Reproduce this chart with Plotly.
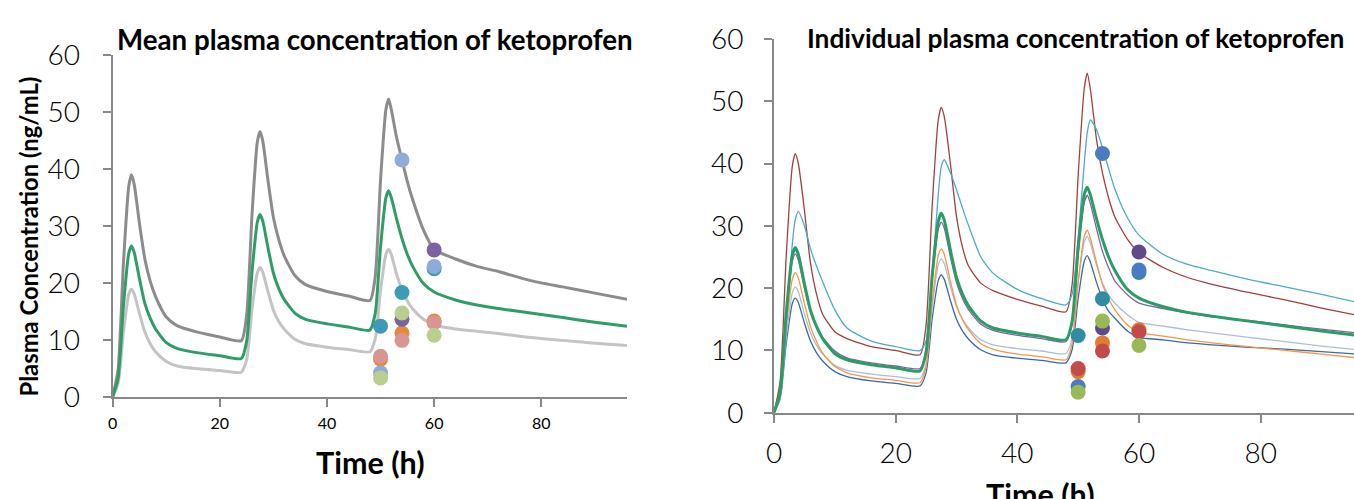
import plotly.graph_objects as go

# ---------------- data ----------------
TIME = [0, 1, 2, 3, 3.5, 4, 5, 6, 7, 8, 10, 12, 16, 20, 24,
        25, 26, 27, 27.5, 28, 29, 30, 31, 32, 34, 36, 40, 44, 48,
        49, 50, 51, 51.5, 52, 53, 54, 55, 56, 58, 60, 64, 68, 72, 78, 84, 90, 96]

MEAN_UPPER = [0, 4.7, 23.4, 37.0, 39.0, 37.4, 30.4, 24.2, 20.3, 17.6, 14.0, 12.5, 11.3, 10.5, 9.85,
              14.3, 31.9, 44.8, 46.6, 45.0, 37.9, 31.5, 27.6, 24.8, 21.3, 19.7, 18.5, 17.7, 16.9,
              21.1, 38.1, 50.5, 52.3, 50.5, 45.5, 41.6, 37.8, 34.6, 29.3, 25.9, 24.2, 22.9, 22.0, 20.4, 19.3, 18.2, 17.1]
MEAN = [0, 3.2, 15.9, 25.2, 26.5, 25.4, 20.7, 16.4, 13.8, 11.9, 9.5, 8.5, 7.7, 7.2, 6.7,
        9.7, 21.9, 30.7, 32.0, 30.9, 26.1, 21.7, 19.0, 17.1, 14.7, 13.6, 12.8, 12.25, 11.7,
        14.6, 26.4, 35.0, 36.2, 35.0, 31.2, 27.8, 25.0, 22.9, 19.9, 18.4, 17.0, 16.1, 15.5, 14.7, 13.9, 13.1, 12.4]
MEAN_LOWER = [0, 2.3, 11.3, 18.0, 18.9, 18.1, 14.6, 11.4, 9.3, 7.9, 6.2, 5.4, 4.9, 4.6, 4.3,
              6.5, 15.3, 21.8, 22.7, 21.9, 18.4, 15.2, 13.2, 11.9, 10.1, 9.3, 8.7, 8.3, 7.9,
              10.1, 18.7, 25.0, 25.9, 25.0, 21.5, 18.8, 16.8, 15.4, 13.6, 12.6, 11.9, 11.5, 11.1, 10.4, 9.9, 9.4, 9.0]

SUBJ_RED = [0, 5.0, 25.0, 39.5, 41.6, 40.0, 32.5, 24.0, 19.0, 15.8, 13.0, 11.9, 10.6, 10.0, 9.3,
            14.1, 33.1, 47.0, 49.0, 47.5, 40.0, 31.5, 26.5, 23.5, 20.8, 19.6, 18.2, 17.1, 16.2,
            20.5, 38.0, 52.0, 54.5, 52.0, 44.0, 38.5, 34.5, 31.5, 28.0, 25.7, 23.3, 21.7, 20.6, 19.3, 18.1, 16.8, 15.6]
SUBJ_CYAN = [0, 2.5, 14.0, 27.0, 31.0, 32.3, 30.0, 26.3, 23.5, 21.0, 16.5, 13.6, 11.5, 10.6, 9.95,
             11.5, 22.0, 35.0, 39.5, 40.6, 38.5, 35.8, 32.8, 30.0, 25.0, 22.4, 19.8, 18.3, 17.3,
             19.0, 28.0, 40.0, 45.0, 47.0, 45.5, 42.5, 39.2, 36.0, 31.5, 28.5, 25.4, 23.8, 22.8, 21.4, 20.2, 19.0, 17.7]
SUBJ_PURPLE = [0, 3.1, 15.3, 24.2, 25.5, 24.5, 20.0, 16.2, 13.8, 12.1, 9.9, 8.8, 8.0, 7.5, 7.1,
               9.9, 21.2, 29.4, 30.6, 29.6, 25.0, 20.9, 18.3, 16.5, 14.2, 13.2, 12.4, 11.9, 11.4,
               14.2, 25.5, 33.7, 34.9, 33.6, 29.6, 25.9, 23.3, 21.2, 19.0, 17.6, 16.7, 16.0, 15.4, 14.8, 14.1, 13.4, 12.8]
SUBJ_ORANGE = [0, 2.7, 13.5, 21.4, 22.5, 21.6, 17.5, 13.8, 11.4, 9.6, 7.4, 6.4, 5.6, 5.2, 4.8,
               7.4, 17.7, 25.2, 26.3, 25.4, 21.1, 17.3, 14.9, 13.3, 11.1, 10.2, 9.4, 9.0, 8.5,
               11.0, 21.0, 28.3, 29.3, 28.0, 24.2, 20.6, 18.3, 16.6, 14.2, 12.9, 12.3, 11.7, 11.2, 10.6, 10.0, 9.4, 8.8]
SUBJ_LIGHTBLUE = [0, 2.4, 12.1, 19.2, 20.2, 19.4, 15.9, 12.8, 10.8, 9.4, 7.6, 6.8, 6.2, 5.8, 5.5,
                  7.8, 17.0, 23.7, 24.7, 23.9, 20.2, 17.0, 15.0, 13.6, 11.7, 10.9, 10.3, 9.9, 9.5,
                  11.8, 20.8, 27.4, 28.3, 27.2, 23.8, 20.8, 18.9, 17.6, 15.8, 14.5, 13.9, 13.3, 12.8, 12.1, 11.4, 10.7, 10.1]
SUBJ_DARKBLUE = [0, 2.2, 11.0, 17.5, 18.4, 17.7, 14.4, 11.5, 9.6, 8.3, 6.6, 5.8, 5.1, 4.7, 4.3,
                 6.4, 15.0, 21.2, 22.1, 21.4, 18.0, 15.0, 13.1, 11.8, 10.1, 9.3, 8.75, 8.4, 8.0,
                 10.1, 18.3, 24.3, 25.2, 24.2, 21.0, 18.2, 16.3, 15.2, 13.2, 12.1, 11.7, 11.2, 10.9, 10.5, 10.2, 9.8, 9.4]

OBS_TIME = [50, 54, 60]
OBS_TEAL = [12.4, 18.3, 22.5]
OBS_ORANGE = [6.6, 11.2, 13.3]
OBS_PURPLE = [None, 13.6, 25.8]
OBS_RED = [7.1, 9.9, 13.0]
OBS_BLUE = [4.2, 41.6, 22.9]
OBS_GREEN = [3.3, 14.7, 10.8]

Y_TICKS = [0, 10, 20, 30, 40, 50, 60]
X_TICKS = [0, 20, 40, 60, 80]

TITLE_LEFT = "Mean plasma concentration of ketoprofen"
TITLE_RIGHT = "Individual plasma concentration of ketoprofen"
Y_TITLE = "Plasma Concentration (ng/mL)"
X_TITLE = "Time (h)"

# ---------------- figure ----------------
W, H = 1354, 499
fig = go.Figure()

SPL = dict(shape="spline", smoothing=0.6)

# left panel
for ys, col in [(MEAN_LOWER, "#C4C4C4"), (MEAN_UPPER, "#8C8C8C"), (MEAN, "#2E9E68")]:
    fig.add_trace(go.Scatter(x=TIME, y=ys, mode="lines", line=dict(color=col, width=3, **SPL),
                             xaxis="x", yaxis="y", showlegend=False, hoverinfo="skip"))

obs_left = [(OBS_TEAL, "#3D9BB5"), (OBS_ORANGE, "#E58A3C"), (OBS_PURPLE, "#7A63A0"),
            (OBS_RED, "#D99594"), (OBS_BLUE, "#90AAD9"), (OBS_GREEN, "#B8CF8F")]
for ys, col in obs_left:
    fig.add_trace(go.Scatter(x=OBS_TIME, y=ys, mode="markers", marker=dict(color=col, size=15, line=dict(width=0)),
                             xaxis="x", yaxis="y", showlegend=False, hoverinfo="skip"))

# right panel
right_lines = [(SUBJ_DARKBLUE, "#3D67AA", 1.3), (SUBJ_LIGHTBLUE, "#A9BEDD", 1.3), (SUBJ_ORANGE, "#F79646", 1.3),
               (SUBJ_PURPLE, "#8064A2", 1.3), (SUBJ_RED, "#A23F3D", 1.3), (SUBJ_CYAN, "#4BACC6", 1.3),
               (MEAN, "#2A9C66", 3)]
for ys, col, w in right_lines:
    fig.add_trace(go.Scatter(x=TIME, y=ys, mode="lines", line=dict(color=col, width=w, **SPL),
                             xaxis="x2", yaxis="y2", showlegend=False, hoverinfo="skip"))

obs_right = [(OBS_TEAL, "#318BA3"), (OBS_ORANGE, "#E07C2C"), (OBS_PURPLE, "#5F4A8B"),
             (OBS_RED, "#C44A4A"), (OBS_BLUE, "#4A7CC3"), (OBS_GREEN, "#99B955")]
for ys, col in obs_right:
    fig.add_trace(go.Scatter(x=OBS_TIME, y=ys, mode="markers", marker=dict(color=col, size=15, line=dict(width=0)),
                             xaxis="x2", yaxis="y2", showlegend=False, hoverinfo="skip"))

AX = dict(showline=True, linecolor="#888888", linewidth=2, showgrid=False, zeroline=False,
          ticks="outside", tickcolor="#888888", tickwidth=2, ticklen=8, automargin=False)
LIGHT = dict(family="Lato, Calibri, sans-serif", size=28, color="#000000", weight=300)

fig.update_layout(
    width=W, height=H, autosize=False,
    margin=dict(l=0, r=0, t=0, b=0, pad=0, autoexpand=False),
    paper_bgcolor="white", plot_bgcolor="white",
    xaxis=dict(domain=[112.7 / W, 627 / W], range=[0, 96], anchor="y", tickvals=X_TICKS,
               tickfont=dict(family="Lato, sans-serif", size=16, color="#000"), ticklabelstandoff=3, **AX),
    yaxis=dict(domain=[(H - 396.7) / H, (H - 55.3) / H], range=[0, 60], anchor="x", tickvals=Y_TICKS,
               tickfont=LIGHT, ticklabelstandoff=17, **AX),
    xaxis2=dict(domain=[774 / W, 1.0], range=[0, 95.35], anchor="y2", tickvals=X_TICKS,
                tickfont=LIGHT, ticklabelstandoff=7, **AX),
    yaxis2=dict(domain=[(H - 412.7) / H, (H - 38.9) / H], range=[0, 60], anchor="x2", tickvals=Y_TICKS,
                tickfont=LIGHT, ticklabelstandoff=15, **AX),
    xaxis3=dict(overlaying="x", anchor="y", range=[0, 96], tickvals=X_TICKS, ticks="inside", ticklen=7,
                tickwidth=2, tickcolor="#888888", showticklabels=False, showline=False, showgrid=False,
                zeroline=False, automargin=False),
    xaxis4=dict(overlaying="x2", anchor="y2", range=[0, 95.35], tickvals=X_TICKS, ticks="inside", ticklen=7,
                tickwidth=2, tickcolor="#888888", showticklabels=False, showline=False, showgrid=False,
                zeroline=False, automargin=False),
)

BOLD = "Lato, Calibri, sans-serif"
fig.add_annotation(text=TITLE_LEFT, xref="paper", yref="paper", x=115 / W, y=(H - 40) / H,
                   xanchor="left", yanchor="middle", showarrow=False,
                   font=dict(family=BOLD, size=27.7, color="#000", weight="bold"))
fig.add_annotation(text=TITLE_RIGHT, xref="paper", yref="paper", x=805 / W, y=(H - 38) / H,
                   xanchor="left", yanchor="middle", showarrow=False,
                   font=dict(family=BOLD, size=26.3, color="#000", weight="bold"))
fig.add_annotation(text=Y_TITLE, xref="paper", yref="paper", x=28 / W, y=(H - 236.5) / H,
                   xanchor="center", yanchor="middle", textangle=-90, showarrow=False,
                   font=dict(family=BOLD, size=23.8, color="#000", weight="bold"))
fig.add_annotation(text=X_TITLE, xref="paper", yref="paper", x=370 / W, y=(H - 462) / H,
                   xanchor="center", yanchor="middle", showarrow=False,
                   font=dict(family=BOLD, size=30.5, color="#000", weight="bold"))
fig.add_annotation(text=X_TITLE, xref="paper", yref="paper", x=1040 / W, y=(H - 494) / H,
                   xanchor="center", yanchor="middle", showarrow=False,
                   font=dict(family=BOLD, size=30.5, color="#000", weight="bold"))

fig.write_html("out.html", config={"displayModeBar": False},
               post_script="document.body.style.margin='0';document.body.style.overflow='hidden';")
